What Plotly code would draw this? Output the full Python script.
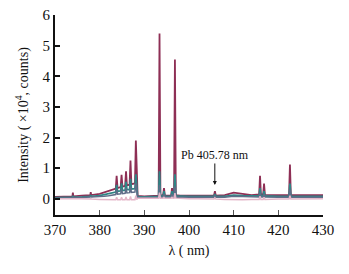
import plotly.graph_objects as go

wl = [370, 372, 373.9, 374, 374.1, 376, 377.9, 378, 378.1, 380,
      381, 382, 383, 383.6, 383.8, 384.0, 384.7, 384.9, 385.1, 385.7,
      385.9, 386.1, 386.7, 386.9, 387.1, 387.9, 388.1, 388.3, 388.5, 390,
      392, 393.2, 393.4, 393.6, 394.2, 394.4, 394.6, 396.0, 396.2, 396.4,
      396.65, 396.85, 397.05, 398, 400, 402, 404, 405.6, 405.8, 406.0,
      408, 410, 412, 414, 415.7, 415.9, 416.1, 416.6, 416.8, 417.0,
      418, 420, 422.4, 422.6, 422.8, 425, 428, 430]

spec_a = [0.06, 0.07, 0.08, 0.20, 0.08, 0.10, 0.12, 0.22, 0.12, 0.16,
          0.20, 0.25, 0.30, 0.33, 0.75, 0.35, 0.38, 0.78, 0.40, 0.42,
          0.90, 0.44, 0.46, 1.25, 0.48, 0.50, 1.90, 0.50, 0.09, 0.08,
          0.09, 0.10, 5.40, 0.12, 0.10, 0.35, 0.10, 0.10, 0.35, 0.12,
          0.12, 4.55, 0.12, 0.10, 0.10, 0.10, 0.10, 0.10, 0.25, 0.10,
          0.12, 0.20, 0.16, 0.12, 0.14, 0.75, 0.14, 0.14, 0.50, 0.13,
          0.12, 0.12, 0.12, 1.12, 0.12, 0.12, 0.12, 0.12]

spec_b = [0.04, 0.05, 0.05, 0.10, 0.05, 0.06, 0.08, 0.12, 0.08, 0.10,
          0.13, 0.16, 0.20, 0.22, 0.45, 0.24, 0.26, 0.50, 0.27, 0.28,
          0.55, 0.30, 0.30, 0.65, 0.32, 0.33, 0.80, 0.33, 0.06, 0.06,
          0.07, 0.08, 0.90, 0.09, 0.08, 0.25, 0.08, 0.08, 0.25, 0.08,
          0.08, 0.80, 0.09, 0.08, 0.08, 0.08, 0.08, 0.08, 0.15, 0.08,
          0.08, 0.12, 0.10, 0.09, 0.09, 0.35, 0.09, 0.09, 0.25, 0.09,
          0.08, 0.08, 0.08, 0.50, 0.08, 0.08, 0.08, 0.08]

spec_c = [0.02, 0.03, 0.03, 0.06, 0.03, 0.04, 0.05, 0.07, 0.05, 0.06,
          0.08, 0.10, 0.13, 0.14, 0.30, 0.15, 0.16, 0.32, 0.17, 0.18,
          0.35, 0.19, 0.20, 0.40, 0.21, 0.22, 0.50, 0.22, 0.04, 0.04,
          0.05, 0.05, 0.45, 0.05, 0.05, 0.15, 0.05, 0.05, 0.15, 0.05,
          0.05, 0.40, 0.05, 0.05, 0.05, 0.05, 0.05, 0.05, 0.10, 0.05,
          0.05, 0.08, 0.07, 0.06, 0.06, 0.20, 0.06, 0.06, 0.15, 0.06,
          0.05, 0.05, 0.05, 0.30, 0.05, 0.05, 0.05, 0.05]

spec_d = [0.00, 0.00, 0.00, 0.02, 0.00, 0.00, -0.01, 0.01, -0.01, -0.02,
          -0.02, -0.03, -0.03, -0.03, 0.05, -0.03, -0.03, 0.05, -0.03, -0.03,
          0.06, -0.03, -0.03, 0.08, -0.03, -0.03, 0.10, -0.03, 0.02, 0.02,
          0.02, 0.02, 0.20, 0.02, 0.02, 0.05, 0.02, 0.02, 0.05, 0.02,
          0.02, 0.18, 0.02, 0.01, 0.00, 0.00, -0.01, -0.01, 0.03, -0.01,
          -0.02, -0.03, -0.03, -0.02, -0.02, 0.08, -0.02, -0.02, 0.05, -0.02,
          -0.01, -0.01, -0.01, 0.10, -0.01, 0.00, 0.00, 0.00]

x_ticks = [370, 380, 390, 400, 410, 420, 430]
y_ticks = [0, 1, 2, 3, 4, 5, 6]

pb_line = 405.78
pb_label = "Pb 405.78 nm"

series = [
    (spec_a, "#8e2f55", 1.8),
    (spec_b, "#2f8585", 1.8),
    (spec_c, "#5f6d88", 1.5),
    (spec_d, "#e3b6c8", 1.5),
]

fig = go.Figure()
for vals, col, w in series:
    fig.add_trace(go.Scatter(x=wl, y=vals, mode="lines",
                             line=dict(color=col, width=w),
                             showlegend=False, hoverinfo="skip"))

font_family = "Liberation Serif, Times New Roman, serif"

fig.add_annotation(x=pb_line, y=0.45, xref="x", yref="y",
                   text=pb_label, showarrow=True, ax=0, ay=-30,
                   arrowhead=2, arrowsize=0.8, arrowwidth=1, arrowcolor="#111",
                   font=dict(family=font_family, size=12, color="#111"))

fig.update_layout(
    width=341, height=266,
    margin=dict(l=47, r=26, t=7, b=59, autoexpand=False),
    paper_bgcolor="white", plot_bgcolor="white",
    font=dict(family=font_family, size=15, color="#111"),
)
fig.update_xaxes(range=[370, 430], tickvals=x_ticks, automargin=False,
                 ticklabeloverflow="allow",
                 showline=True, linecolor="#111", linewidth=2,
                 ticks="inside", ticklen=5, tickwidth=1, tickcolor="#555",
                 showgrid=False, zeroline=False,
                 title=dict(text="λ ( nm)", font=dict(size=14), standoff=8))
fig.update_yaxes(range=[-0.53, 6], tickvals=y_ticks, automargin=False,
                 ticklabeloverflow="allow",
                 showline=True, linecolor="#111", linewidth=2,
                 ticks="inside", ticklen=5, tickwidth=1.5, tickcolor="#111",
                 showgrid=False, zeroline=False,
                 title=dict(text="Intensity ( ×10<sup>4</sup>, counts)", font=dict(size=14), standoff=11))

fig.write_html("out.html")
